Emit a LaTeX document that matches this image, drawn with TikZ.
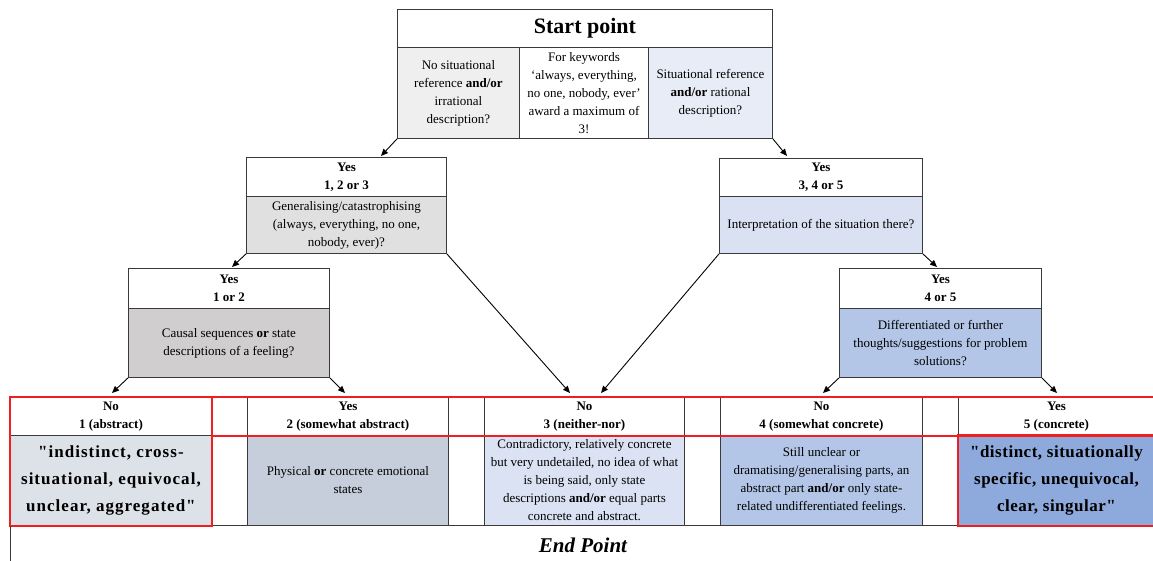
\documentclass[tikz,border=0pt]{standalone}
\usepackage{fontspec}
\setmainfont{Liberation Serif}
\usetikzlibrary{arrows.meta}
\definecolor{cLG}{HTML}{EFEFEF}
\definecolor{cLB}{HTML}{E8ECF6}
\definecolor{cA}{HTML}{E0E0E0}
\definecolor{cB}{HTML}{D9E1F2}
\definecolor{cC}{HTML}{D0CECE}
\definecolor{cD}{HTML}{B4C6E7}
\definecolor{cEa}{HTML}{DDE1E8}
\definecolor{cEb}{HTML}{C5CEDA}
\definecolor{cEc}{HTML}{DAE2F3}
\definecolor{cEd}{HTML}{B4C6E7}
\definecolor{cEe}{HTML}{8EA9DB}
\definecolor{lineC}{HTML}{3A3A3A}
\definecolor{redC}{HTML}{F01E1E}
\begin{document}
\begin{tikzpicture}[x=1pt,y=-1pt,
  cell/.style={draw=lineC, line width=0.9pt, anchor=north west, inner sep=1.5pt,
    align=center, font=\fontsize{13}{18}\selectfont},
  hdr/.style={cell, fill=white, font=\fontsize{13}{18}\selectfont\bfseries},
  bigq/.style={cell, inner xsep=0pt, font=\fontsize{17}{27}\selectfont\bfseries\addfontfeatures{LetterSpace=6,Ligatures=TeXOff}},
  bigqn/.style={cell, inner xsep=0pt, font=\fontsize{17}{27}\selectfont\bfseries\addfontfeatures{LetterSpace=3,Ligatures=TeXOff}},
  conn/.style={-{Triangle[length=7pt,width=6pt]}, line width=0.9pt, draw=black},
  redline/.style={draw=redC, line width=1.6pt}
]
\useasboundingbox (0,0) rectangle (1153,561);

% Start box
\node[cell, fill=white, font=\fontsize{22}{26}\selectfont\bfseries, minimum width=375, minimum height=38] (st) at (397,9) {Start point};
\node[cell, fill=cLG, minimum width=122, minimum height=91] (sl) at (397,47) {No situational\\reference \textbf{and/or}\\irrational\\description?};
\node[cell, fill=white, inner ysep=0.5pt, minimum width=129, minimum height=91] (sm) at (519,47) {For keywords\\‘always, everything,\\no one, nobody, ever’\\award a maximum of\\3!};
\node[cell, fill=cLB, minimum width=124, minimum height=91] (sr) at (648,47) {Situational reference\\\textbf{and/or} rational\\description?};

% Level 2
\node[hdr, minimum width=200, minimum height=39] (ah) at (246,157) {Yes\\1, 2 or 3};
\node[cell, fill=cA, minimum width=200, minimum height=57] (ab) at (246,196) {Generalising/catastrophising\\(always, everything, no one,\\nobody, ever)?};
\node[hdr, minimum width=203, minimum height=38] (bh) at (719,158) {Yes\\3, 4 or 5};
\node[cell, fill=cB, minimum width=203, minimum height=57] (bb) at (719,196) {Interpretation of the situation there?};

% Level 3
\node[hdr, minimum width=201, minimum height=40] (ch) at (128,268) {Yes\\1 or 2};
\node[cell, fill=cC, minimum width=201, minimum height=69] (cb) at (128,308) {Causal sequences \textbf{or} state\\descriptions of a feeling?};
\node[hdr, minimum width=202, minimum height=40] (dh) at (839,268) {Yes\\4 or 5};
\node[cell, fill=cD, minimum width=202, minimum height=69] (db) at (839,308) {Differentiated or further\\thoughts/suggestions for problem\\solutions?};

% Bottom table header row
\node[hdr, minimum width=201, minimum height=38] (t1h) at (10,397) {No\\1 (abstract)};
\node[hdr, minimum width=36, minimum height=38] (g1h) at (211,397) {};
\node[hdr, minimum width=201, minimum height=38] (t2h) at (247,397) {Yes\\2 (somewhat abstract)};
\node[hdr, minimum width=36, minimum height=38] (g2h) at (448,397) {};
\node[hdr, minimum width=200, minimum height=38] (t3h) at (484,397) {No\\3 (neither-nor)};
\node[hdr, minimum width=36, minimum height=38] (g3h) at (684,397) {};
\node[hdr, minimum width=202, minimum height=38] (t4h) at (720,397) {No\\4 (somewhat concrete)};
\node[hdr, minimum width=36, minimum height=38] (g4h) at (922,397) {};
\node[hdr, minimum width=196, minimum height=38] (t5h) at (958,397) {Yes\\5 (concrete)};

% Bottom table lower row
\node[bigq, fill=cEa, minimum width=201, minimum height=90] (t1b) at (10,435) {"indistinct, cross-\\situational, equivocal,\\unclear, aggregated"};
\node[cell, fill=white, minimum width=36, minimum height=90] (g1b) at (211,435) {};
\node[cell, fill=cEb, minimum width=201, minimum height=90] (t2b) at (247,435) {Physical \textbf{or} concrete emotional\\states};
\node[cell, fill=white, minimum width=36, minimum height=90] (g2b) at (448,435) {};
\node[cell, fill=cEc, inner ysep=0.5pt, minimum width=200, minimum height=90] (t3b) at (484,435) {Contradictory, relatively concrete\\but very undetailed, no idea of what\\is being said, only state\\descriptions \textbf{and/or} equal parts\\concrete and abstract.};
\node[cell, fill=white, minimum width=36, minimum height=90] (g3b) at (684,435) {};
\node[cell, fill=cEd, minimum width=202, minimum height=90] (t4b) at (720,435) {Still unclear or\\dramatising/generalising parts, an\\abstract part \textbf{and/or} only state-\\related undifferentiated feelings.};
\node[cell, fill=white, minimum width=36, minimum height=90] (g4b) at (922,435) {};
\node[bigqn, fill=cEe, minimum width=196, minimum height=90] (t5b) at (958,435) {"distinct, situationally\\specific, unequivocal,\\clear, singular"};

% red highlights
\draw[redline] (t1h.north west) rectangle (t1b.south east);
\draw[redline] (t1h.north east) -- (t5h.north east);
\draw[redline] (t1h.south east) -- (t5h.south east);
\draw[redline] (t5b.north west) rectangle (t5b.south east);

% left edge line below table
\coordinate (edge) at (10,561);
\draw[lineC, line width=0.9pt] (t1b.south west) -- (edge);

% End point
\node (ep) at (583,545) {\fontsize{21}{24}\selectfont\bfseries\itshape End Point};

% arrow targets
\coordinate (pA) at (381,156);
\coordinate (pB) at (787,156);
\coordinate (pC) at (232,267);
\coordinate (pM1) at (570,393);
\coordinate (pM2) at (601,393);
\coordinate (pD) at (937,267);
\coordinate (p1) at (112,393);
\coordinate (p2) at (345,393);
\coordinate (p4) at (823,393);
\coordinate (p5) at (1057,393);

\draw[conn] (sl.south west) -- (pA);
\draw[conn] (sr.south east) -- (pB);
\draw[conn] (ab.south west) -- (pC);
\draw[conn] (ab.south east) -- (pM1);
\draw[conn] (bb.south west) -- (pM2);
\draw[conn] (bb.south east) -- (pD);
\draw[conn] (cb.south west) -- (p1);
\draw[conn] (cb.south east) -- (p2);
\draw[conn] (db.south west) -- (p4);
\draw[conn] (db.south east) -- (p5);
\end{tikzpicture}
\end{document}
